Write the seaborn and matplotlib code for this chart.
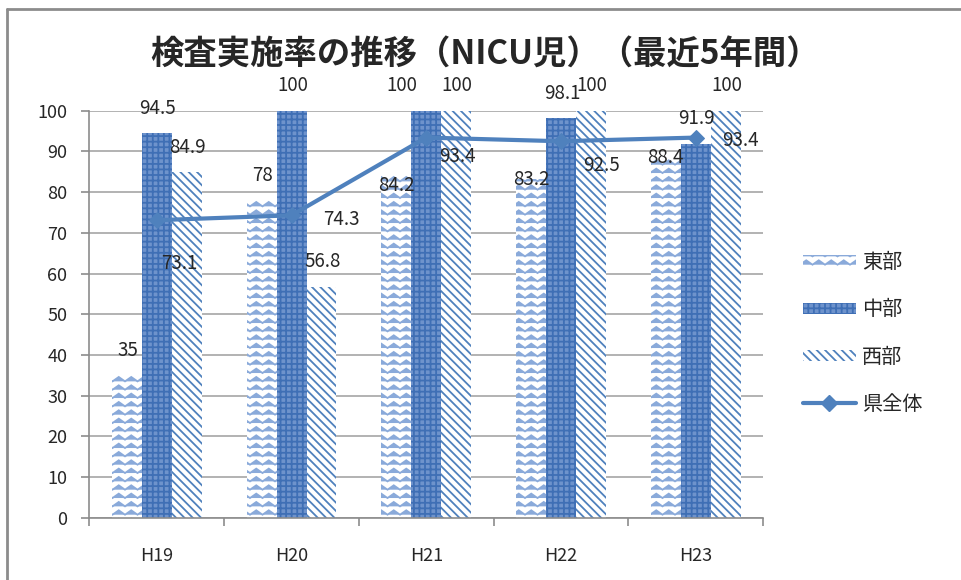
import warnings
import pandas as pd
import numpy as np
import matplotlib
matplotlib.use('Agg')
import matplotlib.pyplot as plt
import matplotlib.patches as mpatches
import matplotlib.hatch as mhatch
from matplotlib.lines import Line2D
from matplotlib.path import Path
import seaborn as sns

warnings.filterwarnings('ignore')

# データ
years = ['H19', 'H20', 'H21', 'H22', 'H23']
regions = ['東部', '中部', '西部']
east = [35, 78, 84.2, 83.2, 88.4]
central = [94.5, 100, 100, 98.1, 91.9]
west = [84.9, 56.8, 100, 100, 100]
total = [73.1, 74.3, 93.4, 92.5, 93.4]
total_label = '県全体'
title = '検査実施率の推移（NICU児）（最近5年間）'

df = pd.DataFrame({
    'year': years * 3,
    'region': [r for r in regions for _ in years],
    'value': east + central + west,
})


# 波線のハッチ（Excelの「波線」パターンの代わり）
class WaveHatch(mhatch.HatchPatternBase):
    def __init__(self, hatch, density):
        self.num_rows = int(hatch.count('~') * density)
        self.num_pts = 17
        self.num_vertices = self.num_rows * self.num_pts

    def set_vertices_and_codes(self, vertices, codes):
        xs = np.linspace(0, 1, self.num_pts)
        amp = np.where(np.arange(self.num_pts) % 2 == 0, -0.022, 0.022)
        for i in range(self.num_rows):
            y = (i + 0.5) / self.num_rows
            sl = slice(i * self.num_pts, (i + 1) * self.num_pts)
            vertices[sl, 0] = xs
            vertices[sl, 1] = y + amp
            codes[sl] = Path.LINETO
            codes[i * self.num_pts] = Path.MOVETO


mhatch._hatch_types.append(WaveHatch)

sns.set_style('white')
plt.rcParams['font.family'] = ['Noto Sans CJK JP', 'DejaVu Sans']
plt.rcParams['hatch.linewidth'] = 1.3

blue = '#4F81BD'
gray = '#8C8C8C'

fig = plt.figure(figsize=(9.61, 5.8), dpi=100)
ax = fig.add_axes([0.0931, 0.1074, 0.7008, 0.7017])

sns.barplot(data=df, x='year', y='value', hue='region', hue_order=regions,
            order=years, width=0.668, ax=ax, legend=False, errorbar=None)

hatches = ['~~', '+++', '\\\\\\\\']
faces = ['white', '#6E93CC', 'white']
edges = ['#8AAADA', '#3F6FB5', blue]
for cont, h, fc, ec in zip(ax.containers, hatches, faces, edges):
    for bar in cont:
        bar.set_facecolor(fc)
        bar.set_edgecolor(ec)
        bar.set_hatch(h)
        bar.set_linewidth(0)

# バーのラベル（重なりを避けた位置調整）
bar_label_shift = {(1, 2): (-24, 25), (0, 2): (0, -10), (0, 3): (0, 0), (0, 4): (0, 0)}
for s, cont in enumerate(ax.containers):
    for i, bar in enumerate(cont):
        h = bar.get_height()
        ax.annotate(f'{h:g}', (bar.get_x() + bar.get_width() / 2, h),
                    xytext=bar_label_shift.get((s, i), (1, 25)),
                    textcoords='offset pixels', ha='center', va='center',
                    fontsize=13.5, annotation_clip=False)

# 県全体の折れ線
sns.lineplot(x=years, y=total, ax=ax, color=blue, linewidth=3,
             marker='D', markersize=8, markeredgecolor=blue, sort=False)

line_offsets = [(22, -43), (50, -4), (31, -19), (41, -24), (45, -3)]
for i, v in enumerate(total):
    ax.annotate(f'{v:g}', (i, v), xytext=line_offsets[i],
                textcoords='offset pixels', ha='center', va='center',
                fontsize=13.5, annotation_clip=False)

ax.set_ylim(0, 100)
ax.set_xlim(-0.5, 4.5)
ax.set_yticks(np.arange(0, 101, 10))
ax.yaxis.grid(True, color='#A6A6A6', linewidth=1.2)
ax.set_axisbelow(True)
ax.set_xlabel('')
ax.set_ylabel('')
for s in ['top', 'right']:
    ax.spines[s].set_visible(False)
for s in ['left', 'bottom']:
    ax.spines[s].set_color(gray)
    ax.spines[s].set_linewidth(1.2)
ax.tick_params(axis='y', labelsize=13, left=True, length=6, width=1.2,
               color=gray, pad=10)
ax.tick_params(axis='x', which='major', labelsize=13, bottom=False, length=0, pad=21)
ax.set_xticks(np.arange(-0.5, 5, 1), minor=True)
ax.tick_params(axis='x', which='minor', bottom=True, length=6, width=1.2, color=gray)

fig.text(0.505, 0.905, title, ha='center', va='center', fontsize=24, fontweight='bold')

handles = [mpatches.Patch(facecolor=fc, edgecolor=ec, hatch=h, linewidth=0)
           for h, fc, ec in zip(hatches, faces, edges)]
handles.append(Line2D([0], [0], color=blue, linewidth=3, marker='D', markersize=8))
fig.legend(handles, regions + [total_label], loc='center left',
           bbox_to_anchor=(0.817, 0.425), frameon=False, fontsize=14.5,
           handlelength=2.6, handleheight=0.5, labelspacing=1.3,
           handletextpad=0.3)

# 枠線（上と左のみ見える）
fig.add_artist(Line2D([7 / 961, 1], [1 - 9 / 580, 1 - 9 / 580], transform=fig.transFigure,
                      color=gray, linewidth=2))
fig.add_artist(Line2D([7 / 961, 7 / 961], [0, 1 - 9 / 580], transform=fig.transFigure,
                      color=gray, linewidth=2))

fig.savefig('out.png', dpi=100)
